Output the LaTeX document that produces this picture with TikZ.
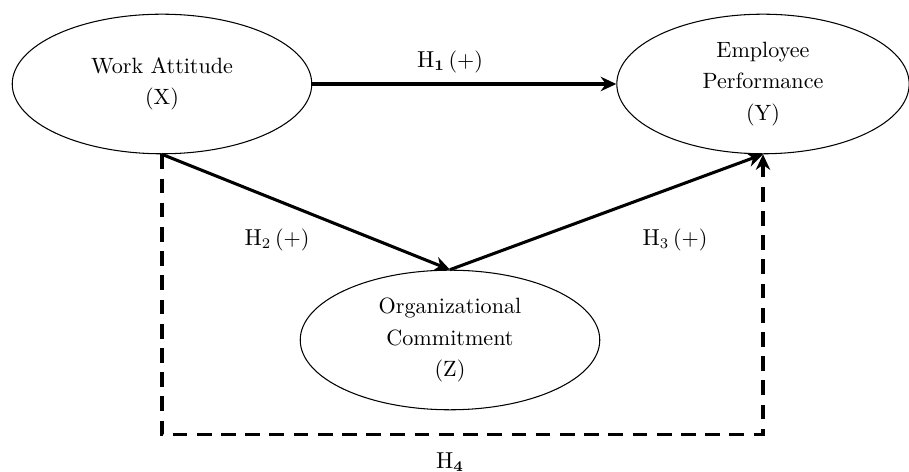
\documentclass[tikz,border=0pt]{standalone}
\usepackage{tikz}
\usetikzlibrary{arrows.meta,positioning,shapes.geometric,calc}
\tikzset{
  construct/.style={ellipse,draw=black,line width=0.5pt,fill=white,align=center,minimum width=5cm,minimum height=2.33cm,inner sep=0pt,font={\fontsize{10.5}{15}\selectfont}},
  hyparrow/.style={-{Stealth[length=2.6mm,width=2.4mm]},line width=1.45pt},
  hypdash/.style={-{Stealth[length=2.6mm,width=2.4mm]},line width=1.6pt,dash pattern=on 7pt off 4.5pt},
  hyplabel/.style={font={\fontsize{10.5}{13.5}\selectfont}}
}
\begin{document}
\begin{tikzpicture}[x=0.0167cm,y=-0.0167cm]
    \useasboundingbox (0,0) rectangle (909,472);
    % constructs
    \node[construct] (wa) at (162,84) {Work Attitude\\(X)};
    \node[construct,minimum width=4.88cm] (ep) at (763,84) {Employee\\Performance\\(Y)};
    \node[construct] (oc) at (450,340) {Organizational\\Commitment\\(Z)};
    % hypotheses
    \draw[hyparrow] (wa.east) -- (ep.west);
    \draw[hyparrow] (wa.south) -- (oc.north);
    \draw[hyparrow] (oc.north) -- (ep.south);
    \draw[hypdash] (wa.south) -- ++(0,280) -| (ep.south);
    \node[hyplabel] (h1) at (450,62) {$\mathrm{H}_{\mathbf{1}}$\,(+)};
    \node[hyplabel] (h2) at (277,240) {$\mathrm{H}_2$\,(+)};
    \node[hyplabel] (h3) at (675,240) {$\mathrm{H}_3$\,(+)};
    \node[hyplabel] (h4) at (450,462) {$\mathrm{H}_{\mathbf{4}}$};
\end{tikzpicture}
\end{document}
